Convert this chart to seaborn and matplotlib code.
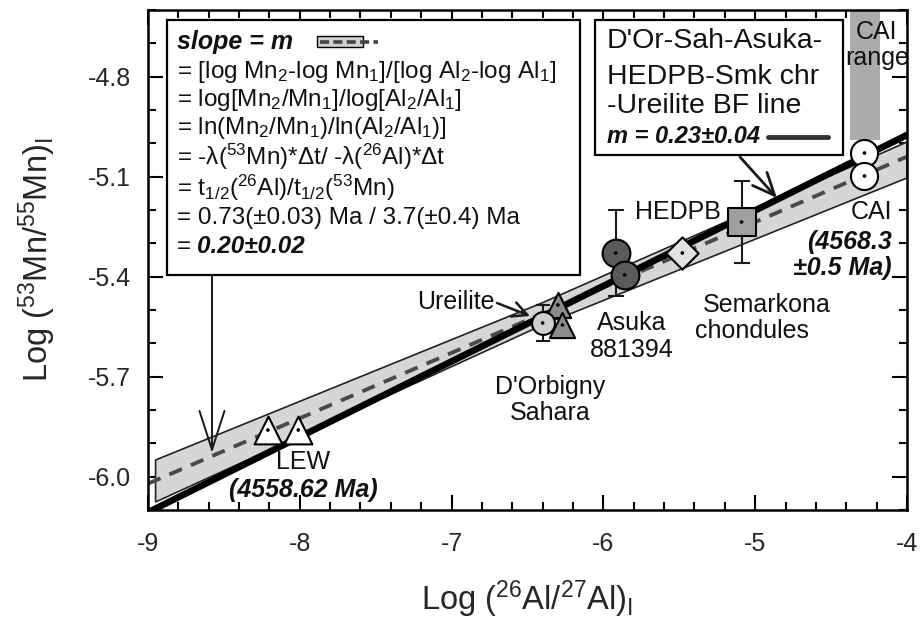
import numpy as np
import pandas as pd
import matplotlib
matplotlib.use("Agg")
import matplotlib.pyplot as plt
import seaborn as sns
from matplotlib.patches import Rectangle, Polygon
from matplotlib.ticker import MultipleLocator

# ---------------- data ----------------
bf_x = [-9.0, -4.0]                 # thick best-fit line (m = 0.23)
bf_y = [-6.107, -4.975]
ref_x = [-9.0, -4.0]                # dashed half-life ratio line (m = 0.20)
ref_y = [-6.021, -5.040]
band_x = [-8.95, -6.4, -4.0]        # grey uncertainty band of dashed line
band_upper = [-5.950, -5.478, -4.996]
band_lower = [-6.076, -5.545, -5.104]

lew_x, lew_y = [-8.21, -8.01], [-5.86, -5.86]
ure_x, ure_y, ure_err = [-6.40], [-5.539], [0.055]
dorb_x, dorb_y = [-6.30, -6.27], [-5.485, -5.545]
asuka_x, asuka_y = [-5.92, -5.86], [-5.329, -5.395]
asuka_err = [0.13, 0.0]
hedpb_x, hedpb_y = [-5.48], [-5.329]
smk_x, smk_y, smk_err = [-5.09], [-5.236], [0.123]
cai_x, cai_y = [-4.28, -4.28], [-5.029, -5.098]
cai_range_x = [-4.375, -4.178]
cai_range_bottom = -4.99

xlim = (-9, -4)
ylim = (-6.1, -4.6)
xticks = [-9, -8, -7, -6, -5, -4]
xticklabels = ["-9", "-8", "-7", "-6", "-5", "-4"]
yticks = [-6.0, -5.7, -5.4, -5.1, -4.8]
yticklabels = ["-6.0", "-5.7", "-5.4", "-5.1", "-4.8"]

# ---------------- style ----------------
sns.set_theme(style="ticks")
plt.rcParams["font.family"] = ["Liberation Sans", "DejaVu Sans"]
plt.rcParams["mathtext.fontset"] = "custom"
plt.rcParams["mathtext.rm"] = "Liberation Sans"
plt.rcParams["mathtext.it"] = "Liberation Sans:italic"
plt.rcParams["mathtext.bf"] = "Liberation Sans:bold"
plt.rcParams["mathtext.sf"] = "Liberation Sans"
plt.rcParams["axes.unicode_minus"] = False

fig = plt.figure(figsize=(9.22, 6.24), dpi=100)
ax = fig.add_axes([0.1605, 0.1827, 0.8232, 0.8013])
ax.set_xlim(*xlim)
ax.set_ylim(*ylim)

# pixel -> axes fraction helper for annotation layout
def A(px, py):
    return ((px - 148) / 759.0, (510 - py) / 500.0)

def T(px, py, s, **kw):
    x, y = A(px, py)
    kw.setdefault("va", "center")
    kw.setdefault("ha", "center")
    kw.setdefault("fontsize", 18)
    kw.setdefault("color", "#111111")
    return ax.text(x, y, s, transform=ax.transAxes, **kw)

# CAI range shading
ax.add_patch(Rectangle((cai_range_x[0], cai_range_bottom), cai_range_x[1] - cai_range_x[0],
                       ylim[1] - cai_range_bottom, facecolor="#ababab", edgecolor="none", zorder=1))

# band
poly = list(zip(band_x, band_upper)) + list(zip(band_x[::-1], band_lower[::-1]))
ax.add_patch(Polygon(poly, closed=True, facecolor="#d6d6d6", edgecolor="#222222", lw=1.2, zorder=2))

# lines
sns.lineplot(x=ref_x, y=ref_y, ax=ax, color="#4a4a4a", lw=2.8, dashes=False, zorder=3,
             linestyle=(0, (3.5, 2.5)))
sns.lineplot(x=bf_x, y=bf_y, ax=ax, color="black", lw=4.8, zorder=4)

# error bars
ax.errorbar(ure_x, ure_y, yerr=ure_err, fmt="none", ecolor="k", elinewidth=1.5, capsize=5, capthick=1.5, zorder=5)
ax.errorbar(asuka_x, asuka_y, yerr=asuka_err, fmt="none", ecolor="k", elinewidth=1.5, capsize=6, capthick=1.5, zorder=5)
ax.errorbar(smk_x, smk_y, yerr=smk_err, fmt="none", ecolor="k", elinewidth=1.5, capsize=6, capthick=1.5, zorder=5)

def pts(x, y, marker, s, face):
    sns.scatterplot(x=x, y=y, ax=ax, marker=marker, s=s, color=face, edgecolor="black",
                    linewidth=1.5, zorder=6, legend=False)
    sns.scatterplot(x=x, y=y, ax=ax, marker="o", s=7, color="black", edgecolor="none",
                    zorder=7, legend=False)

pts(lew_x, lew_y, "^", 400, "white")
pts(dorb_x, dorb_y, "^", 330, "#8c8c8c")
pts(ure_x, ure_y, "o", 270, "#d0d0d0")
pts(asuka_x, asuka_y, "o", 400, "#5a5a5a")
pts(hedpb_x, hedpb_y, "D", 270, "#e2e2e2")
pts(smk_x, smk_y, "s", 380, "#a0a0a0")
pts(cai_x, cai_y, "o", 380, "white")

# ---------------- boxes ----------------
bx0, by0 = A(167, 275)
bx1, by1 = A(580, 20)
ax.add_patch(Rectangle((bx0, by0), bx1 - bx0, by1 - by0, transform=ax.transAxes,
                       facecolor="white", edgecolor="black", lw=1.6, zorder=8))
lx0, ly0 = A(595, 155)
lx1, ly1 = A(843, 20)
ax.add_patch(Rectangle((lx0, ly0), lx1 - lx0, ly1 - ly0, transform=ax.transAxes,
                       facecolor="white", edgecolor="black", lw=1.6, zorder=8))

box_lines = [
    (72, r"= [log Mn$_2$-log Mn$_1$]/[log Al$_2$-log Al$_1$]"),
    (100, r"= log[Mn$_2$/Mn$_1$]/log[Al$_2$/Al$_1$]"),
    (128, r"= ln(Mn$_2$/Mn$_1$)/ln(Al$_2$/Al$_1$)]"),
    (157, r"= -λ($^{53}$Mn)*Δt/ -λ($^{26}$Al)*Δt"),
    (188, r"= t$_{1/2}$($^{26}$Al)/t$_{1/2}$($^{53}$Mn)"),
    (218, "= 0.73(±0.03) Ma / 3.7(±0.4) Ma"),
]
T(177, 42, "slope = m", ha="left", fontweight="bold", fontstyle="italic", zorder=9)
for py, s in box_lines:
    T(177, py, s, ha="left", zorder=9, fontsize=17.5)
T(177, 247, "=", ha="left", zorder=9, fontsize=17.5)
T(197, 247, "0.20±0.02", ha="left", zorder=9, fontsize=17.5, fontweight="bold", fontstyle="italic")

# sample of band + dashed line in box
sx0, sy0 = A(317, 47)
sx1, sy1 = A(363, 36)
ax.add_patch(Rectangle((sx0, sy0), sx1 - sx0, sy1 - sy0, transform=ax.transAxes,
                       facecolor="#d0d0d0", edgecolor="black", lw=1.0, zorder=9))
p0, p1 = A(320, 42), A(378, 42)
ax.plot([p0[0], p1[0]], [p0[1], p1[1]], transform=ax.transAxes, color="#444444", lw=2.6,
        linestyle=(0, (2.5, 1.2)), zorder=10)

# legend box text
T(607, 41, "D'Or-Sah-Asuka-", ha="left", fontsize=20.5, zorder=9)
T(607, 77, "HEDPB-Smk chr", ha="left", fontsize=20.5, zorder=9)
T(607, 106, "-Ureilite BF line", ha="left", fontsize=20.5, zorder=9)
T(607, 137, "m = 0.23±0.04", ha="left", fontsize=17, fontweight="bold", fontstyle="italic", zorder=9)
q0, q1 = A(768, 137), A(828, 137)
ax.plot([q0[0], q1[0]], [q0[1], q1[1]], transform=ax.transAxes, color="#333333", lw=3.5, zorder=10)

# arrows
ax.annotate("", xy=A(212, 453), xytext=A(212, 275), xycoords="axes fraction", textcoords="axes fraction",
            arrowprops=dict(arrowstyle="->,head_length=1.4,head_width=0.45", lw=1.4, color="k",
                            mutation_scale=20, shrinkA=0, shrinkB=0), zorder=9)
ax.annotate("", xy=A(777, 198), xytext=A(740, 157), xycoords="axes fraction", textcoords="axes fraction",
            arrowprops=dict(arrowstyle="->,head_length=0.8,head_width=0.35", lw=2.0, color="k",
                            mutation_scale=20, shrinkA=0, shrinkB=0), zorder=9)
ax.annotate("", xy=A(530, 316), xytext=A(497, 303), xycoords="axes fraction", textcoords="axes fraction",
            arrowprops=dict(arrowstyle="->,head_length=0.6,head_width=0.3", lw=1.8, color="k",
                            mutation_scale=18, shrinkA=0, shrinkB=0), zorder=9)

# labels
T(877, 32, "CAI", fontsize=18, zorder=3)
T(877, 58, "range", fontsize=18, zorder=3)
T(456, 302, "Ureilite")
T(632, 323, "Asuka")
T(632, 350, "881394")
T(550, 387, "D'Orbigny")
T(550, 413, "Sahara")
T(678, 212, "HEDPB")
T(767, 305, "Semarkona")
T(752, 331, "chondules")
T(892, 212, "CAI", ha="right")
T(892, 242, "(4568.3", ha="right", fontweight="bold", fontstyle="italic")
T(892, 268, "±0.5 Ma)", ha="right", fontweight="bold", fontstyle="italic")
T(303, 462, "LEW")
T(303, 490, "(4558.62 Ma)", fontweight="bold", fontstyle="italic")

# ---------------- axes ----------------
ax.set_xticks(xticks)
ax.set_xticklabels(xticklabels)
ax.set_yticks(yticks)
ax.set_yticklabels(yticklabels)
ax.xaxis.set_minor_locator(MultipleLocator(0.2))
ax.yaxis.set_minor_locator(MultipleLocator(0.1))
ax.tick_params(which="both", direction="in", top=True, right=True, color="black", width=1.5)
ax.tick_params(which="major", length=11, labelsize=18, pad=12)
ax.tick_params(axis="x", which="major", pad=16)
ax.tick_params(which="minor", length=6)
for sp in ax.spines.values():
    sp.set_linewidth(1.8)
    sp.set_color("black")
    sp.set_zorder(11)

ax.set_xlabel(r"Log ($^{26}$Al/$^{27}$Al)$_{\rm I}$", fontsize=23.5, labelpad=16)
ax.set_ylabel(r"Log ($^{53}$Mn/$^{55}$Mn)$_{\rm I}$", fontsize=23.5, labelpad=22)

fig.savefig("out.png", dpi=100)
